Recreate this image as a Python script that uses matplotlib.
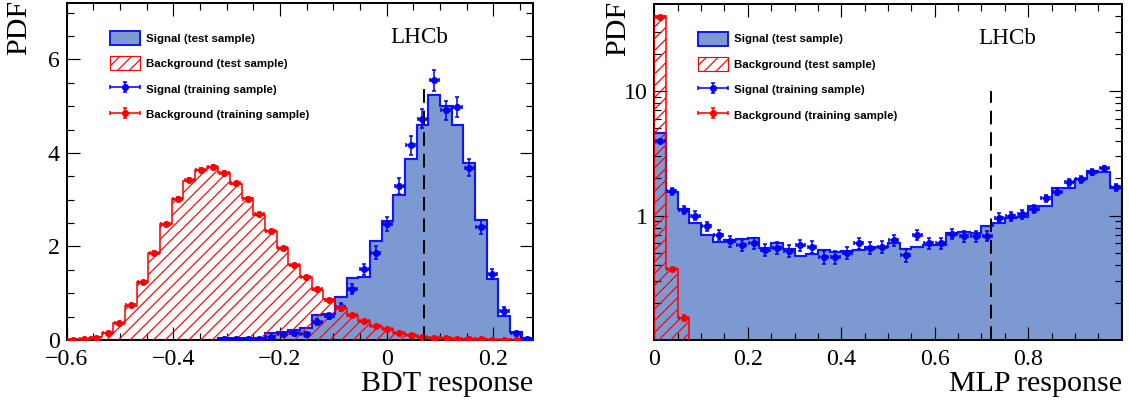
import numpy as np
import matplotlib
matplotlib.use('Agg')
import matplotlib.pyplot as plt
from matplotlib.patches import Patch
from matplotlib.container import ErrorbarContainer
from matplotlib.legend_handler import HandlerErrorbar
from matplotlib.ticker import MultipleLocator, FixedLocator, FuncFormatter

# histogram content, 40 bins per classifier
bdt_range = (-0.6, 0.275)
mlp_range = (0.0, 1.0)

sig_test_bdt = [0, 0, 0, 0, 0.005, 0.005, 0.005, 0.005, 0.005, 0.005,
                0.005, 0.005, 0.005, 0.04, 0.04, 0.04, 0.05, 0.14, 0.18, 0.21,
                0.25, 0.53, 0.56, 0.93, 1.32, 1.34, 2.11, 2.55, 3.09, 3.88,
                4.59, 5.23, 5.00, 4.59, 3.79, 2.57, 1.31, 0.51, 0.18, 0.04]
sig_train_bdt = [0, 0, 0, 0, 0, 0, 0, 0, 0, 0,
                 0, 0, 0, 0.03, 0.03, 0.03, 0.02, 0.07, 0.13, 0.16,
                 0.13, 0.39, 0.51, 0.71, 1.09, 1.51, 1.87, 2.48, 3.30, 4.16,
                 4.73, 5.55, 4.91, 4.98, 3.68, 2.41, 1.41, 0.63, 0.14, 0.02]
bkg_test_bdt = [0.02, 0.03, 0.07, 0.15, 0.36, 0.73, 1.25, 1.86, 2.48, 3.01,
                3.41, 3.64, 3.70, 3.58, 3.34, 3.03, 2.68, 2.34, 1.96, 1.61,
                1.34, 1.07, 0.87, 0.68, 0.52, 0.41, 0.31, 0.23, 0.16, 0.10,
                0.07, 0.05, 0.04, 0.03, 0.02, 0.02, 0.01, 0.01, 0.01, 0.0]
bkg_train_bdt = [0.01, 0.02, 0.05, 0.14, 0.37, 0.74, 1.24, 1.87, 2.47, 3.02,
                 3.42, 3.63, 3.71, 3.57, 3.35, 3.02, 2.69, 2.33, 1.97, 1.60,
                 1.35, 1.08, 0.86, 0.69, 0.53, 0.40, 0.31, 0.24, 0.16, 0.11,
                 0.07, 0.05, 0.04, 0.03, 0.02, 0.02, 0.01, 0.01, 0.01, 0.0]

sig_test_mlp = [4.63, 1.55, 1.12, 0.87, 0.70, 0.61, 0.63, 0.65, 0.66, 0.55,
                0.60, 0.54, 0.47, 0.49, 0.53, 0.51, 0.52, 0.53, 0.56, 0.56,
                0.60, 0.54, 0.56, 0.58, 0.58, 0.73, 0.74, 0.72, 0.82, 0.87,
                0.96, 0.98, 1.20, 1.19, 1.67, 1.67, 1.97, 2.27, 2.23, 1.67]
sig_train_mlp = [3.96, 1.56, 1.11, 1.00, 0.82, 0.70, 0.62, 0.58, 0.60, 0.53,
                 0.55, 0.52, 0.58, 0.56, 0.46, 0.46, 0.50, 0.60, 0.55, 0.56,
                 0.63, 0.48, 0.70, 0.60, 0.60, 0.71, 0.68, 0.68, 0.69, 0.96,
                 0.99, 1.02, 1.13, 1.37, 1.55, 1.85, 1.95, 2.25, 2.39, 1.69]
bkg_test_mlp = [39.7, 0.373, 0.150] + [0] * 37
bkg_train_mlp = [39.0, 0.37, 0.15] + [0] * 37

bdt_cut = 0.07
mlp_cut = 0.72

sig_fill = '#7d99d1'
sig_line = '#1018f0'

DPI = 141.125
plt.rcParams['hatch.linewidth'] = 0.6
plt.rcParams['font.family'] = 'Liberation Serif'


def fmt(x, pos):
    return ('%g' % x).replace('-', '\u2212')


def draw_panel(ax, rng, sig_test, sig_train, bkg_test, bkg_train, err_s, err_b):
    edges = np.linspace(rng[0], rng[1], len(sig_test) + 1)
    centers = 0.5 * (edges[:-1] + edges[1:])
    w = edges[1] - edges[0]
    st = np.array(sig_test, dtype=float)
    bt = np.array(bkg_test, dtype=float)

    ax.stairs(st, edges, fill=True, color=sig_fill, zorder=1)
    ax.stairs(st, edges, baseline=0, color=sig_line, lw=1.1, zorder=2)
    ax.stairs(bt, edges, fill=True, facecolor='none', edgecolor='red',
              hatch='////', lw=0, zorder=3)
    ax.stairs(bt, edges, baseline=0, color='red', lw=0.8, zorder=4)

    handles = []
    for vals, col, k in [(sig_train, '#0000ff', err_s), (bkg_train, 'red', err_b)]:
        v = np.array(vals, dtype=float)
        m = v > 0
        # poisson-like statistical uncertainty
        e = k * np.sqrt(v[m])
        h = ax.errorbar(centers[m], v[m], xerr=0.38 * w, yerr=e, fmt='o', ms=2.6,
                        color=col, ecolor=col, elinewidth=0.8, capsize=1.2,
                        capthick=0.8, zorder=6)
        handles.append(h)
    return handles


fig = plt.figure(figsize=(1129 / DPI, 403 / DPI), dpi=DPI)
axL = fig.add_axes([66.7 / 1129, 63 / 403, 466.6 / 1129, 336.7 / 403])
axR = fig.add_axes([654.3 / 1129, 63 / 403, 467.4 / 1129, 336 / 403])

hL = draw_panel(axL, bdt_range, sig_test_bdt, sig_train_bdt, bkg_test_bdt,
                bkg_train_bdt, 0.095, 0.02)
hR = draw_panel(axR, mlp_range, sig_test_mlp, sig_train_mlp, bkg_test_mlp,
                bkg_train_mlp, 0.08, 0.02)

axL.set_xlim(bdt_range)
axL.set_ylim(0, 7.2)
axL.plot([bdt_cut, bdt_cut], [0, 5.5], color='black', lw=1.0,
         ls=(0, (7, 4)), zorder=7)
axL.xaxis.set_major_locator(MultipleLocator(0.2))
axL.xaxis.set_minor_locator(MultipleLocator(0.05))
axL.yaxis.set_major_locator(MultipleLocator(2))
axL.yaxis.set_minor_locator(MultipleLocator(0.5))
axL.set_xlabel('BDT response')

axR.set_yscale('log')
axR.set_xlim(mlp_range)
axR.set_ylim(0.1, 50)
axR.plot([mlp_cut, mlp_cut], [0.1, 10], color='black', lw=1.0,
         ls=(0, (7, 4)), zorder=7)
axR.xaxis.set_major_locator(FixedLocator([0, 0.2, 0.4, 0.6, 0.8]))
axR.xaxis.set_minor_locator(FixedLocator(np.arange(0.05, 0.99, 0.05)))
axR.yaxis.set_major_locator(FixedLocator([1, 10]))
axR.yaxis.set_minor_locator(FixedLocator([0.2, 0.3, 0.4, 0.5, 0.6, 0.7, 0.8, 0.9,
                                          2, 3, 4, 5, 6, 7, 8, 9, 20, 30, 40]))
axR.yaxis.set_minor_formatter(FuncFormatter(lambda x, p: ''))
axR.set_xlabel('MLP response')

for ax in (axL, axR):
    ax.xaxis.set_major_formatter(FuncFormatter(fmt))
    ax.yaxis.set_major_formatter(FuncFormatter(fmt))
    ax.tick_params(which='both', direction='in', top=True, right=True,
                   labelsize=12.2, width=0.6)
    ax.tick_params(which='major', length=6.6)
    ax.tick_params(which='minor', length=3.5)
    ax.tick_params(axis='x', pad=4.5)
    ax.tick_params(axis='y', pad=3.5)
    for s in ax.spines.values():
        s.set_linewidth(1.0)
    ax.xaxis.label.set_size(15.3)
    ax.xaxis.set_label_coords(1.0, -0.092)
    ax.xaxis.label.set_ha('right')
    ax.set_ylabel('PDF', fontsize=15.3, loc='top')
    ax.text(0.755, 0.897, 'LHCb', transform=ax.transAxes, fontsize=11.8,
            ha='center', va='center')

axL.yaxis.set_label_coords(-0.075, 1.01)
axR.yaxis.set_label_coords(-0.05, 1.01)

for ax, h in ((axL, hL), (axR, hR)):
    handles = [Patch(facecolor=sig_fill, edgecolor=sig_line, lw=1.0),
               Patch(facecolor='none', edgecolor='red', hatch='////', lw=0.6),
               h[0], h[1]]
    labels = ['Signal (test sample)', 'Background (test sample)',
              'Signal (training sample)', 'Background (training sample)']
    ax.legend(handles, labels, loc='upper left', bbox_to_anchor=(0.093, 0.918),
              frameon=False, borderpad=0, borderaxespad=0,
              prop={'family': 'Liberation Sans', 'weight': 'bold', 'size': 5.85},
              handlelength=2.6, handleheight=1.5, handletextpad=0.55,
              labelspacing=1.0,
              handler_map={ErrorbarContainer: HandlerErrorbar(xerr_size=1.3,
                                                              yerr_size=0.45)})

fig.savefig('out.png', dpi=DPI)
